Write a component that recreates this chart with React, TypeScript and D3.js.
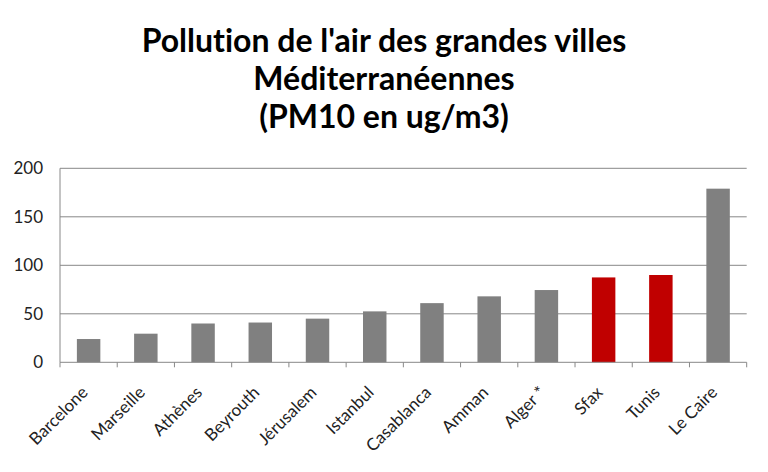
import React from "react";
import * as d3 from "d3";

const categories = ["Barcelone", "Marseille", "Athènes", "Beyrouth", "Jérusalem", "Istanbul", "Casablanca", "Amman", "Alger *", "Sfax", "Tunis", "Le Caire"];
const values = [24, 29.5, 40, 41, 45, 52.5, 61, 68, 74.5, 87.5, 90, 179];
const highlighted = ["Sfax", "Tunis"];
const yTicks = [0, 50, 100, 150, 200];
const titleLines = ["Pollution de l'air des grandes villes", "Méditerranéennes", "(PM10 en ug/m3)"];

export default function App() {
  const W = 768, H = 472;
  const left = 60, right = 746.7, top = 168.3, bottom = 362.3;
  const x = d3.scaleBand<string>().domain(categories).range([left, right]).paddingInner(0.59).paddingOuter(0.295);
  const xb = d3.scaleBand<string>().domain(categories).range([left, right]);
  const y = d3.scaleLinear().domain([0, 200]).range([bottom, top]);
  const font = "Lato, 'Open Sans', sans-serif";
  return (
    <svg width={W} height={H} style={{ position: "absolute", left: 0, top: 0, background: "#fff" }}>
      <rect width={W} height={H} fill="#fff" />
      {titleLines.map((t, i) => (
        <text key={i} x={384} y={52 + i * 38} textAnchor="middle" fontFamily={font} fontWeight="bold" fontSize={32}
          fill="#000" style={{ fontVariantLigatures: "none", fontFeatureSettings: "'liga' 0" }}>{t}</text>
      ))}
      {yTicks.map((t) => (
        <g key={t}>
          {t > 0 && <line x1={left} x2={right} y1={y(t)} y2={y(t)} stroke="#888" strokeWidth={1} />}
          <text x={43} y={y(t)} dy="0.36em" textAnchor="end" fontFamily={font} fontSize={17} fill="#222">{t}</text>
        </g>
      ))}
      {categories.map((c, i) => (
        <rect key={c} x={x(c)} y={y(values[i])} width={x.bandwidth()} height={y(0) - y(values[i])}
          fill={highlighted.includes(c) ? "#C00000" : "#808080"} />
      ))}
      <line x1={left} x2={left} y1={top} y2={bottom} stroke="#888" />
      <line x1={left} x2={right} y1={bottom} y2={bottom} stroke="#888" />
      {categories.map((c) => (
        <line key={"t" + c} x1={xb(c)!} x2={xb(c)!} y1={bottom} y2={bottom + 5} stroke="#888" />
      ))}
      <line x1={right} x2={right} y1={bottom} y2={bottom + 5} stroke="#888" />
      {categories.map((c) => {
        const cx = xb(c)! + xb.bandwidth() / 2 - 4;
        const cy = bottom + 27;
        return (
          <text key={"l" + c} transform={`translate(${cx},${cy}) rotate(-45)`} textAnchor="end" dy="0.35em"
            fontFamily={font} fontSize={17} fill="#222">{c}</text>
        );
      })}
    </svg>
  );
}
